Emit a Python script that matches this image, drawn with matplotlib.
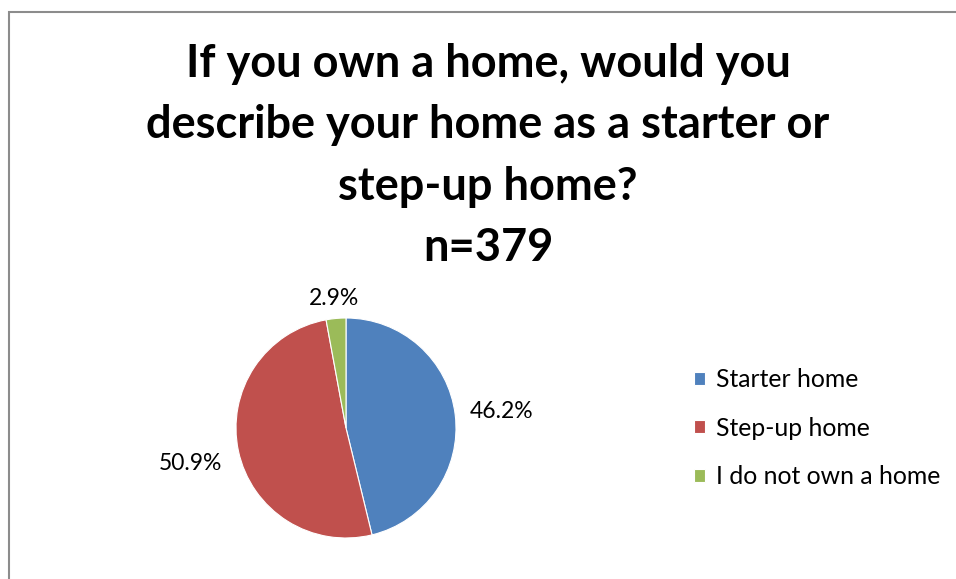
import matplotlib
matplotlib.use("Agg")
import matplotlib.pyplot as plt
from matplotlib.patches import Rectangle
import numpy as np

plt.rcParams['font.family'] = ['Lato', 'DejaVu Sans']

# Survey answers
categories = ["Starter home", "Step-up home", "I do not own a home"]
shares = [46.2, 50.9, 2.9]
colors = ["#4F81BD", "#C0504D", "#9BBB59"]
title = "If you own a home, would you\ndescribe your home as a starter or\nstep-up home?\nn=379"

# radial distance of each percentage label (in pie radii)
label_dist = [1.42, 1.45, 1.2]

W, H = 956, 579
fig = plt.figure(figsize=(W / 100, H / 100), dpi=100)

# outer chart frame
fig.patches.append(Rectangle((8.5 / W, -0.1), 2.0, 1 - 11.5 / H + 0.1,
                             transform=fig.transFigure, fill=False,
                             edgecolor="#8c8c8c", linewidth=1.5))

cx, cy, r = 346, H - 428, 110
ax = fig.add_axes([(cx - r) / W, (cy - r) / H, 2 * r / W, 2 * r / H])
wedges, _ = ax.pie(shares, colors=colors, startangle=90, counterclock=False,
                   radius=1, wedgeprops=dict(edgecolor="white", linewidth=0.8))
ax.set_xlim(-1, 1)
ax.set_ylim(-1, 1)
ax.set_aspect("equal")
ax.axis("off")

for w, v, d in zip(wedges, shares, label_dist):
    ang = np.radians((w.theta1 + w.theta2) / 2)
    ax.text(d * np.cos(ang), d * np.sin(ang) - 0.02, f"{v:.1f}%", ha="center",
            va="center", fontsize=16.5, clip_on=False)

fig.text(488 / W, 1 - 156 / H, title, ha="center", va="center",
         fontsize=32.5, fontweight="bold", linespacing=1.56)

fig.legend(wedges, categories, loc="center left",
           bbox_to_anchor=(694 / W, 1 - 428 / H), frameon=False,
           borderpad=0, borderaxespad=0,
           fontsize=17.8, handlelength=0.45, handleheight=0.45,
           handletextpad=0.45, labelspacing=1.03)

fig.savefig("out.png", dpi=100)
